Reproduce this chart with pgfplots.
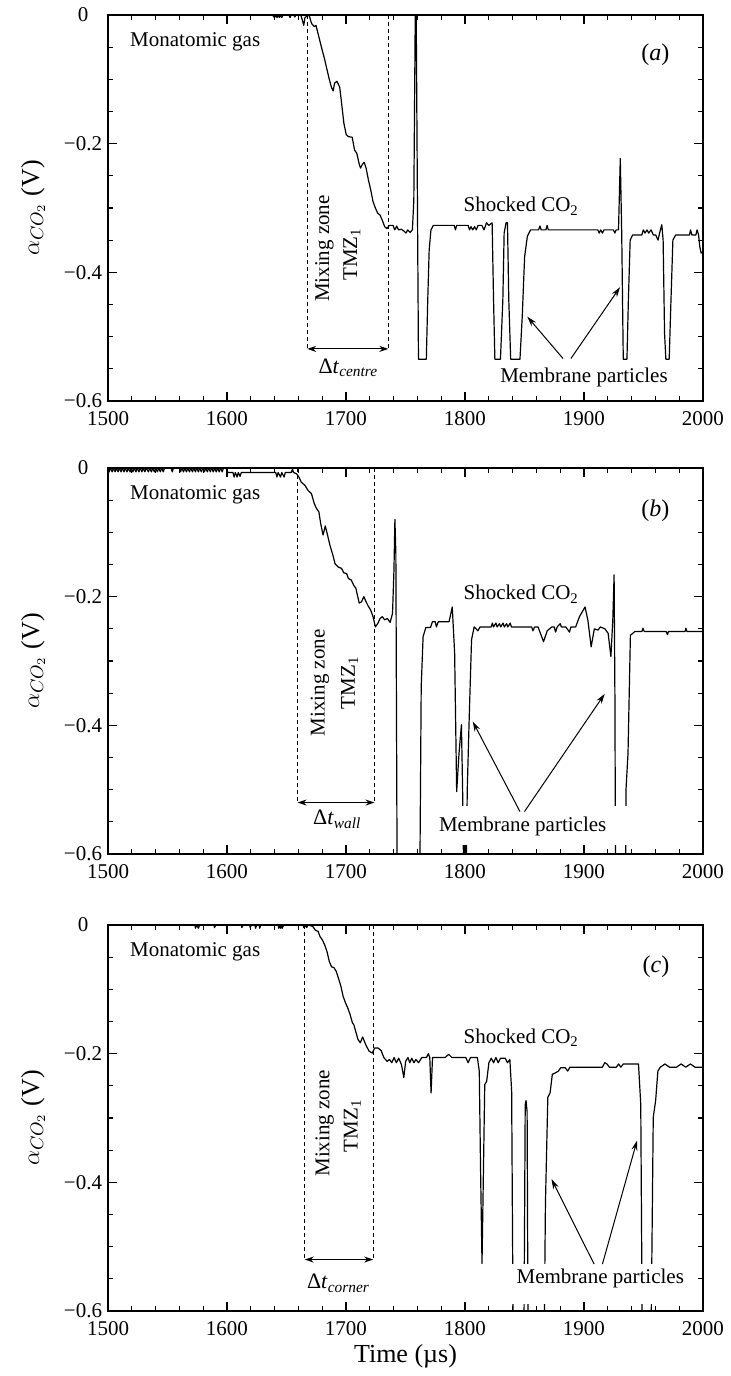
\documentclass[border=0pt]{standalone}
\usepackage{fontspec}
\setmainfont{Liberation Serif}
\usepackage{pgfplots}
\pgfplotsset{compat=1.18}
\usetikzlibrary{arrows.meta}
\newcommand\fs[1]{\fontsize{#1}{#1}\selectfont}
\pgfplotsset{
  panel/.style={
    scale only axis, width=297.5pt, height=193pt,
    xmin=1500, xmax=2000, ymin=-0.6, ymax=0,
    xtick={1500,1600,1700,1800,1900,2000},
    xticklabels={1500,1600,1700,1800,1900,2000},
    ytick={-0.6,-0.4,-0.2,0},
    yticklabels={−0.6,−0.4,−0.2,0},
    minor x tick num=4, minor y tick num=3,
    tick align=inside,
    major tick length=4.5pt, minor tick length=2.5pt,
    tick style={black, line width=0.55pt},
    axis line style={line width=0.6pt},
    tick label style={font=\fs{10.5}},
    xticklabel style={yshift=-1.8pt},
    yticklabel style={anchor=center, xshift=-12.5pt},
    ylabel={$\alpha_{CO_2}$ (V)},
    ylabel style={font=\fs{13}, at={(axis description cs:-0.126,0.5)}, anchor=center},
  },
  sig/.style={black, line width=0.6pt, line join=round},
}
\tikzset{
  dsh/.style={line width=0.5pt, dash pattern=on 2pt off 1.5pt},
  dbl/.style={line width=0.6pt, {Stealth[length=4.5pt,width=3pt]}-{Stealth[length=4.5pt,width=3pt]}},
  arr/.style={line width=0.5pt, -{Stealth[length=5pt,width=3pt]}},
  lab/.style={font=\fs{10.5}, inner sep=0pt},
  tk/.style={black, line width=0.55pt},
}
\newcommand\frameticks{%
\pgfplotsinvokeforeach{1600,1700,1800,1900}{\draw[tk] (axis cs:##1,-0.6) -- (axis cs:##1,-0.586); \draw[tk] (axis cs:##1,0) -- (axis cs:##1,-0.014);}%
\pgfplotsinvokeforeach{1520,1540,1560,1580,1620,1640,1660,1680,1720,1740,1760,1780,1820,1840,1860,1880,1920,1940,1960,1980}{\draw[tk] (axis cs:##1,-0.6) -- (axis cs:##1,-0.5922); \draw[tk] (axis cs:##1,0) -- (axis cs:##1,-0.0078);}%
\pgfplotsinvokeforeach{-0.4,-0.2}{\draw[tk] (axis cs:1500,##1) -- (axis cs:1507.6,##1); \draw[tk] (axis cs:2000,##1) -- (axis cs:1992.4,##1);}%
\pgfplotsinvokeforeach{-0.55,-0.5,-0.45,-0.35,-0.3,-0.25,-0.15,-0.1,-0.05}{\draw[tk] (axis cs:1500,##1) -- (axis cs:1504.2,##1); \draw[tk] (axis cs:2000,##1) -- (axis cs:1995.8,##1);}%
}
\begin{document}
\begin{tikzpicture}
\path (0,0) rectangle (362.5pt,-688pt);
% ---------------- (a)
\begin{axis}[panel, at={(54pt,-200.5pt)}, anchor=south west]
\addplot[sig] coordinates {(1500,0)(1638,0)(1640,-0.004)(1641,0)(1642,-0.004)(1643,0)(1644,-0.004)(1645,0)(1646,-0.004)(1647,0)(1652,0)(1653,-0.004)(1654,0)(1656,0)(1657,-0.003)(1658,0)(1662,0)(1663,-0.006)(1664.5,-0.016)(1665.5,-0.004)(1667,-0.002)(1669,0)(1671,-0.013)(1673.3,-0.018)(1674.8,-0.016)(1677.2,-0.034)(1679.9,-0.054)(1681.8,-0.067)(1683.8,-0.083)(1685.7,-0.098)(1687.7,-0.112)(1689.2,-0.118)(1690.4,-0.106)(1692.4,-0.103)(1694.7,-0.112)(1696.3,-0.137)(1698.2,-0.168)(1700.2,-0.186)(1702.1,-0.189)(1705.2,-0.190)(1707.2,-0.210)(1709.1,-0.215)(1711,-0.231)(1712.2,-0.238)(1713.8,-0.232)(1715.3,-0.229)(1716.9,-0.238)(1718.8,-0.256)(1720.8,-0.272)(1722.7,-0.290)(1724.7,-0.300)(1726.6,-0.308)(1728.6,-0.311)(1730.5,-0.319)(1732.5,-0.329)(1734.4,-0.332)(1736.4,-0.327)(1739.5,-0.327)(1741,-0.334)(1742.6,-0.328)(1744.2,-0.334)(1746.5,-0.333)(1748.8,-0.336)(1750.4,-0.339)(1751.9,-0.334)(1753.9,-0.338)(1755.8,-0.334)(1757,-0.288)(1758.2,0)(1759,0)(1760.9,-0.535)(1767.5,-0.535)(1768.7,-0.443)(1769.9,-0.365)(1771.4,-0.334)(1773.4,-0.327)(1790.9,-0.327)(1792,-0.334)(1793,-0.327)(1802.6,-0.327)(1803.8,-0.334)(1805,-0.329)(1806.5,-0.334)(1808,-0.329)(1809.5,-0.334)(1811,-0.327)(1814.2,-0.327)(1816,-0.334)(1818.1,-0.323)(1820,-0.327)(1822.8,-0.323)(1824,-0.443)(1825.1,-0.535)(1829.8,-0.535)(1831.8,-0.443)(1832.9,-0.339)(1834.5,-0.323)(1835.7,-0.323)(1836.8,-0.443)(1838.4,-0.535)(1846.2,-0.535)(1848.1,-0.469)(1850.1,-0.376)(1852.4,-0.344)(1855.1,-0.334)(1861.8,-0.334)(1863,-0.328)(1864,-0.334)(1868,-0.334)(1869,-0.327)(1870,-0.334)(1911.6,-0.334)(1912.8,-0.339)(1914,-0.334)(1915.5,-0.339)(1916.7,-0.334)(1924.7,-0.334)(1925.9,-0.339)(1927,-0.334)(1929,-0.334)(1930.5,-0.223)(1931.7,-0.339)(1933,-0.535)(1936.1,-0.535)(1937.3,-0.443)(1938.8,-0.350)(1940.8,-0.342)(1948.6,-0.342)(1949.8,-0.334)(1951.3,-0.339)(1952.9,-0.334)(1954.4,-0.339)(1956.4,-0.334)(1958.3,-0.342)(1960.3,-0.342)(1962.2,-0.350)(1964.2,-0.334)(1965.4,-0.326)(1966.5,-0.350)(1967.7,-0.495)(1968.8,-0.535)(1971.6,-0.535)(1973.1,-0.443)(1974.7,-0.350)(1977,-0.342)(1988.7,-0.342)(1989.5,-0.334)(1990.7,-0.342)(1994,-0.342)(1995,-0.334)(1996.3,-0.342)(1997.3,-0.360)(1998.4,-0.370)(2000,-0.368)};
\draw[dsh] (axis cs:1667.4,0) -- (axis cs:1667.4,-0.519);
\draw[dsh] (axis cs:1735.6,0) -- (axis cs:1735.6,-0.519);
\draw[dbl] (axis cs:1667.4,-0.519) -- (axis cs:1735.6,-0.519);
\node[lab, anchor=base west] at (axis cs:1518.3,-0.049) {Monatomic gas};
\node[anchor=east, inner sep=0pt, font=\fs{12}] at (axis cs:1972,-0.062) {(\textit{a})};
\node[lab, rotate=90] at (axis cs:1681.8,-0.363) {Mixing zone};
\node[lab, rotate=90] at (axis cs:1705,-0.372) {TMZ\textsubscript{1}};
\node[inner sep=0pt, font=\fs{11}] at (axis cs:1702,-0.548) {Δ\textit{t}\textsubscript{\textit{centre}}};
\node[lab, anchor=base] at (axis cs:1847.3,-0.306) {Shocked CO\textsubscript{2}};
\node[lab, anchor=base] at (axis cs:1900,-0.571) {Membrane particles};
\draw[arr] (axis cs:1882.4,-0.534) -- (axis cs:1852.4,-0.469);
\draw[arr] (axis cs:1889,-0.534) -- (axis cs:1930.3,-0.423);
\frameticks
\end{axis}
% ---------------- (b)
\begin{axis}[panel, at={(54pt,-427pt)}, anchor=south west]
\addplot[sig] coordinates {(1500,0)(1501,-0.006)(1502,0)(1503.5,-0.006)(1504.5,0)(1506,-0.006)(1507,0)(1508.5,-0.006)(1509.5,0)(1511,-0.006)(1512,0)(1513.5,-0.006)(1514.5,0)(1516,-0.006)(1517,0)(1518.5,-0.006)(1519.5,0)(1521,-0.006)(1522,0)(1523.5,-0.006)(1524.5,0)(1526,-0.006)(1527,0)(1528.5,-0.006)(1529.5,0)(1531,-0.006)(1532,0)(1534,-0.006)(1535,0)(1536.5,-0.006)(1537.5,0)(1539,-0.006)(1540,0)(1541.5,-0.006)(1542.5,0)(1544,-0.006)(1545,0)(1546.5,-0.006)(1547.5,0)(1553,0)(1554,-0.006)(1555,0)(1560,0)(1561,-0.006)(1562,0)(1563.5,-0.006)(1564.5,0)(1566,-0.006)(1567,0)(1568.5,-0.006)(1569.5,0)(1571,-0.006)(1572,0)(1573.5,-0.006)(1574.5,0)(1576,-0.006)(1577,0)(1578.5,-0.006)(1579.5,0)(1581,-0.006)(1582,0)(1583.5,-0.006)(1584.5,0)(1586,-0.006)(1587,0)(1588.5,-0.006)(1589.5,0)(1591,-0.006)(1592,0)(1593.5,-0.006)(1594.5,0)(1596,-0.006)(1597,0)(1600,-0.001)(1600.5,-0.007)(1605,-0.007)(1606,-0.014)(1607,-0.007)(1608.5,-0.014)(1609.5,-0.007)(1611,-0.013)(1612,-0.007)(1641,-0.007)(1642,-0.014)(1643,-0.007)(1645,-0.014)(1646,-0.007)(1648,-0.014)(1649,-0.007)(1654,-0.007)(1655,-0.002)(1656,-0.007)(1658.5,-0.009)(1660.4,-0.014)(1662.4,-0.022)(1665.5,-0.027)(1668.2,-0.035)(1671,-0.040)(1673.3,-0.055)(1675.2,-0.063)(1677.2,-0.068)(1678.7,-0.086)(1680.7,-0.104)(1682.6,-0.090)(1684.2,-0.102)(1686.5,-0.120)(1688.9,-0.135)(1690.8,-0.149)(1693.5,-0.154)(1696.3,-0.156)(1698.2,-0.163)(1700.5,-0.164)(1702.1,-0.172)(1704.4,-0.174)(1706.4,-0.182)(1708.3,-0.187)(1711.1,-0.210)(1713,-0.208)(1715,-0.200)(1716.9,-0.208)(1718.8,-0.215)(1720.8,-0.221)(1722.7,-0.231)(1724.7,-0.247)(1726.6,-0.242)(1728.6,-0.234)(1730.5,-0.231)(1732.5,-0.236)(1734.8,-0.234)(1737.1,-0.240)(1739.1,-0.226)(1740.3,-0.159)(1741.1,-0.080)(1741.9,-0.133)(1743,-0.65)(1762,-0.65)(1763.2,-0.340)(1764.8,-0.262)(1767.1,-0.248)(1771,-0.248)(1772.6,-0.239)(1775,-0.239)(1776,-0.247)(1777.5,-0.239)(1786.6,-0.239)(1789.3,-0.216)(1791.3,-0.288)(1793,-0.503)(1795,-0.443)(1797,-0.399)(1798,-0.50)(1799,-0.65)(1801,-0.65)(1801.9,-0.50)(1803.5,-0.391)(1805.5,-0.267)(1807.7,-0.247)(1810.8,-0.253)(1812.7,-0.247)(1822,-0.247)(1823,-0.241)(1824,-0.247)(1826,-0.241)(1827,-0.247)(1829,-0.242)(1830,-0.247)(1832,-0.241)(1833,-0.247)(1835,-0.242)(1836,-0.247)(1838,-0.241)(1839,-0.247)(1856,-0.247)(1857.1,-0.253)(1858.5,-0.247)(1861.4,-0.247)(1863.4,-0.257)(1866,-0.270)(1869.1,-0.253)(1873,-0.247)(1875,-0.247)(1876.1,-0.255)(1877.5,-0.247)(1880,-0.242)(1881,-0.247)(1884.7,-0.247)(1887.8,-0.255)(1889,-0.247)(1893,-0.247)(1896.2,-0.231)(1900.9,-0.216)(1903.3,-0.237)(1906,-0.278)(1908.7,-0.250)(1911.8,-0.252)(1913.7,-0.247)(1917.6,-0.250)(1920.3,-0.257)(1922.6,-0.293)(1924.2,-0.237)(1925.3,-0.166)(1926,-0.36)(1926.5,-0.65)(1935,-0.65)(1935.3,-0.5)(1937,-0.443)(1939,-0.260)(1942.9,-0.254)(1948.7,-0.254)(1949.5,-0.249)(1950.6,-0.254)(1969,-0.254)(1970.1,-0.259)(1971,-0.254)(1985,-0.254)(1985.6,-0.249)(1986.5,-0.254)(2000,-0.254)};
\fill[white] (axis cs:1778,-0.525) rectangle (axis cs:1945,-0.586);
\draw[dsh] (axis cs:1659.3,0) -- (axis cs:1659.3,-0.52);
\draw[dsh] (axis cs:1724,0) -- (axis cs:1724,-0.52);
\draw[dbl] (axis cs:1659.3,-0.52) -- (axis cs:1724,-0.52);
\node[lab, anchor=base west] at (axis cs:1518.3,-0.049) {Monatomic gas};
\node[anchor=east, inner sep=0pt, font=\fs{12}] at (axis cs:1972,-0.066) {(\textit{b})};
\node[lab, rotate=90] at (axis cs:1678,-0.334) {Mixing zone};
\node[lab, rotate=90] at (axis cs:1703,-0.334) {TMZ\textsubscript{1}};
\node[inner sep=0pt, font=\fs{11}] at (axis cs:1692.7,-0.546) {Δ\textit{t}\textsubscript{\textit{wall}}};
\node[lab, anchor=base] at (axis cs:1847.3,-0.205) {Shocked CO\textsubscript{2}};
\node[lab, anchor=base] at (axis cs:1848.5,-0.565) {Membrane particles};
\draw[arr] (axis cs:1846.2,-0.534) -- (axis cs:1806.5,-0.394);
\draw[arr] (axis cs:1850,-0.534) -- (axis cs:1917.4,-0.351);
\frameticks
\end{axis}
% ---------------- (c)
\begin{axis}[panel, at={(54pt,-655.5pt)}, anchor=south west,
  xlabel={Time (µs)},
  xlabel style={font=\fs{13}, at={(axis description cs:0.5,-0.118)}, anchor=center}]
\addplot[sig] coordinates {(1500,0)(1573,0)(1573.5,-0.005)(1574.5,0)(1576,-0.005)(1577,0)(1589,0)(1589.5,-0.004)(1590.5,0)(1612,0)(1612.5,-0.004)(1613.5,0)(1619,0)(1619.5,-0.004)(1620.5,0)(1623.5,0)(1624,-0.005)(1625,0)(1627,0)(1627.5,-0.005)(1628.5,0)(1643,0)(1643.5,-0.005)(1644.5,0)(1645,-0.005)(1646,0)(1646.5,-0.005)(1647.5,0)(1664,0)(1664.5,-0.004)(1665.5,-0.001)(1667,-0.004)(1668,0)(1672,-0.002)(1674.3,-0.008)(1676.6,-0.010)(1678.2,-0.018)(1680.1,-0.023)(1682.1,-0.031)(1684,-0.041)(1686,-0.057)(1687.9,-0.065)(1689.8,-0.066)(1691.8,-0.072)(1693.7,-0.083)(1695.7,-0.095)(1697.6,-0.111)(1699.6,-0.121)(1701.5,-0.129)(1703.4,-0.139)(1705.4,-0.152)(1706.6,-0.155)(1708.1,-0.165)(1710.1,-0.178)(1712,-0.183)(1714,-0.174)(1715.5,-0.181)(1717.1,-0.188)(1719.4,-0.196)(1722.1,-0.199)(1724.1,-0.191)(1726.8,-0.191)(1729.5,-0.195)(1731.8,-0.206)(1734.6,-0.212)(1736.5,-0.209)(1738.5,-0.214)(1740.4,-0.206)(1742.3,-0.214)(1744.3,-0.207)(1746.6,-0.217)(1748.6,-0.237)(1750.1,-0.212)(1752.1,-0.206)(1753.6,-0.214)(1755.2,-0.207)(1757.1,-0.214)(1758.7,-0.209)(1761,-0.214)(1763.7,-0.206)(1767.6,-0.206)(1769.2,-0.200)(1770.4,-0.206)(1771.5,-0.261)(1772.7,-0.206)(1783.2,-0.206)(1786.3,-0.201)(1789,-0.206)(1800.7,-0.206)(1802.6,-0.214)(1804.6,-0.206)(1810.4,-0.206)(1812,-0.227)(1813.1,-0.382)(1814.3,-0.526)(1815.5,-0.382)(1816.6,-0.248)(1818.2,-0.243)(1820.1,-0.214)(1822.1,-0.207)(1824,-0.214)(1826,-0.206)(1827.9,-0.214)(1829.9,-0.207)(1833.8,-0.207)(1835.7,-0.214)(1837.7,-0.209)(1839.2,-0.258)(1840.5,-0.65)(1849.5,-0.65)(1850.6,-0.279)(1851.3,-0.273)(1852.2,-0.29)(1853,-0.65)(1866.5,-0.65)(1867.6,-0.433)(1869.6,-0.268)(1871.5,-0.261)(1873.4,-0.232)(1875.8,-0.230)(1878.5,-0.227)(1880.4,-0.222)(1884.3,-0.222)(1886.3,-0.227)(1888.2,-0.221)(1915.5,-0.221)(1917.4,-0.214)(1919.3,-0.216)(1921.3,-0.221)(1927.1,-0.221)(1929.1,-0.216)(1931,-0.221)(1933,-0.216)(1934.9,-0.216)(1942.7,-0.216)(1945.8,-0.216)(1947.7,-0.279)(1949,-0.65)(1956.3,-0.65)(1958.2,-0.299)(1960.2,-0.273)(1962.1,-0.227)(1964.1,-0.221)(1968,-0.216)(1971.9,-0.221)(1977.7,-0.221)(1981.6,-0.216)(1985.5,-0.221)(1989.4,-0.216)(1993.3,-0.221)(2000,-0.221)};
\fill[white] (axis cs:1836,-0.527) rectangle (axis cs:1990,-0.589);
\draw[dsh] (axis cs:1665.3,0) -- (axis cs:1665.3,-0.52);
\draw[dsh] (axis cs:1722.9,0) -- (axis cs:1722.9,-0.52);
\draw[dbl] (axis cs:1665.3,-0.52) -- (axis cs:1722.9,-0.52);
\node[lab, anchor=base west] at (axis cs:1518.3,-0.049) {Monatomic gas};
\node[anchor=east, inner sep=0pt, font=\fs{12}] at (axis cs:1972,-0.065) {(\textit{c})};
\node[lab, rotate=90] at (axis cs:1682,-0.308) {Mixing zone};
\node[lab, rotate=90] at (axis cs:1705.4,-0.312) {TMZ\textsubscript{1}};
\node[inner sep=0pt, font=\fs{11}] at (axis cs:1693.7,-0.557) {Δ\textit{t}\textsubscript{\textit{corner}}};
\node[lab, anchor=base] at (axis cs:1847.3,-0.184) {Shocked CO\textsubscript{2}};
\node[lab, anchor=base] at (axis cs:1913.7,-0.558) {Membrane particles};
\draw[arr] (axis cs:1908.5,-0.527) -- (axis cs:1872.7,-0.395);
\draw[arr] (axis cs:1915.5,-0.527) -- (axis cs:1944.6,-0.335);
\frameticks
\end{axis}
\end{tikzpicture}
\end{document}
